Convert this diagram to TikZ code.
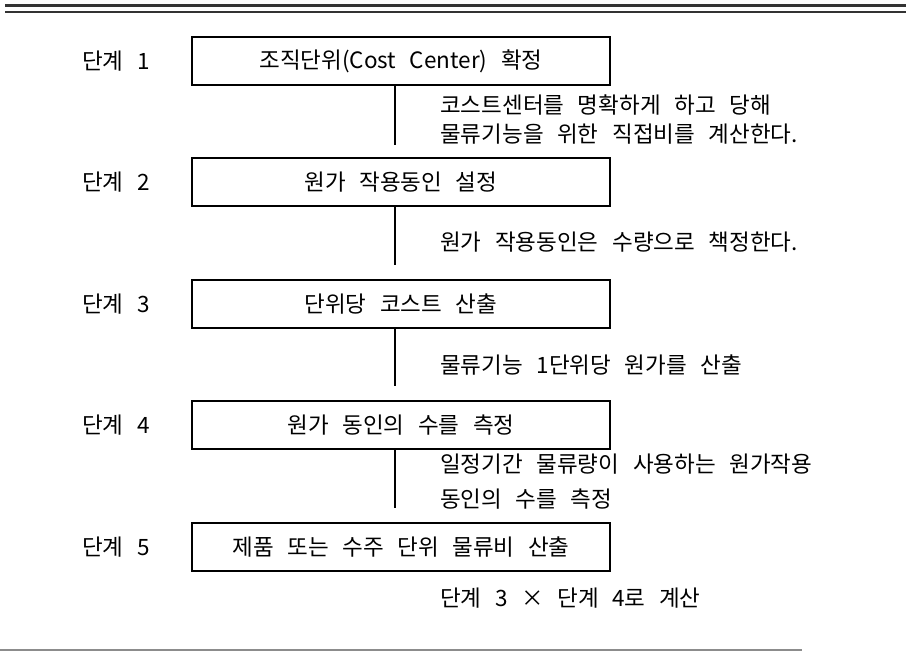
\documentclass[tikz,border=0pt]{standalone}
\usepackage{fontspec}
\newfontfamily\kr[WordSpace=2.7]{Noto Sans CJK KR}
\begin{document}
\begin{tikzpicture}[x=1pt,y=-1pt,
  krfont/.style={font=\kr\fontsize{22.5}{27}\selectfont},
  stepbox/.style={draw=black, line width=1.6pt, minimum width=418pt, minimum height=48pt, inner sep=0pt, krfont},
  steplabel/.style={anchor=west, inner sep=0pt, krfont},
  note/.style={anchor=west, align=left, inner sep=0pt, krfont},
  conn/.style={line width=1.4pt, black},
  rule/.style={line width=#1, black!80}]
\useasboundingbox (0,0) rectangle (906,652);
% top double rule
\coordinate (t1a) at (5,6);    \coordinate (t1b) at (906,6);
\coordinate (t2a) at (5,12.5); \coordinate (t2b) at (906,12.5);
\draw[rule=3pt] (t1a) -- (t1b);
\draw[rule=2pt] (t2a) -- (t2b);
% bottom rule
\coordinate (ba) at (0,650); \coordinate (bb) at (802,650);
\draw[line width=2pt, black!45] (ba) -- (bb);
% step boxes
\node[stepbox] (b1) at (401,61)  {조직단위(Cost Center) 확정};
\node[stepbox] (b2) at (401,182) {원가 작용동인 설정};
\node[stepbox] (b3) at (401,304) {단위당 코스트 산출};
\node[stepbox] (b4) at (401,425) {원가 동인의 수를 측정};
\node[stepbox] (b5) at (401,547) {제품 또는 수주 단위 물류비 산출};
% labels
\node[steplabel] (l1) at (82,61)  {단계 1};
\node[steplabel] (l2) at (82,182) {단계 2};
\node[steplabel] (l3) at (82,304) {단계 3};
\node[steplabel] (l4) at (82,425) {단계 4};
\node[steplabel] (l5) at (82,547) {단계 5};
% connectors
\coordinate (e1) at (395,145);
\coordinate (e2) at (395,265);
\coordinate (e3) at (395,386);
\coordinate (e4) at (395,508);
\draw[conn] (b1.south -| e1) -- (e1);
\draw[conn] (b2.south -| e2) -- (e2);
\draw[conn] (b3.south -| e3) -- (e3);
\draw[conn] (b4.south -| e4) -- (e4);
% notes
\node[note, font=\kr\fontsize{22.5}{29}\selectfont] (n1) at (440,120) {코스트센터를 명확하게 하고 당해\\물류기능을 위한 직접비를 계산한다.};
\node[note] (n2) at (440,242) {원가 작용동인은 수량으로 책정한다.};
\node[note] (n3) at (440,365) {물류기능 1단위당 원가를 산출};
\node[note, font=\kr\fontsize{22.5}{35}\selectfont] (n4) at (440,482) {일정기간 물류량이 사용하는 원가작용\\동인의 수를 측정};
\node[note] (n5) at (440,598) {단계 3 × 단계 4로 계산};
\end{tikzpicture}
\end{document}
